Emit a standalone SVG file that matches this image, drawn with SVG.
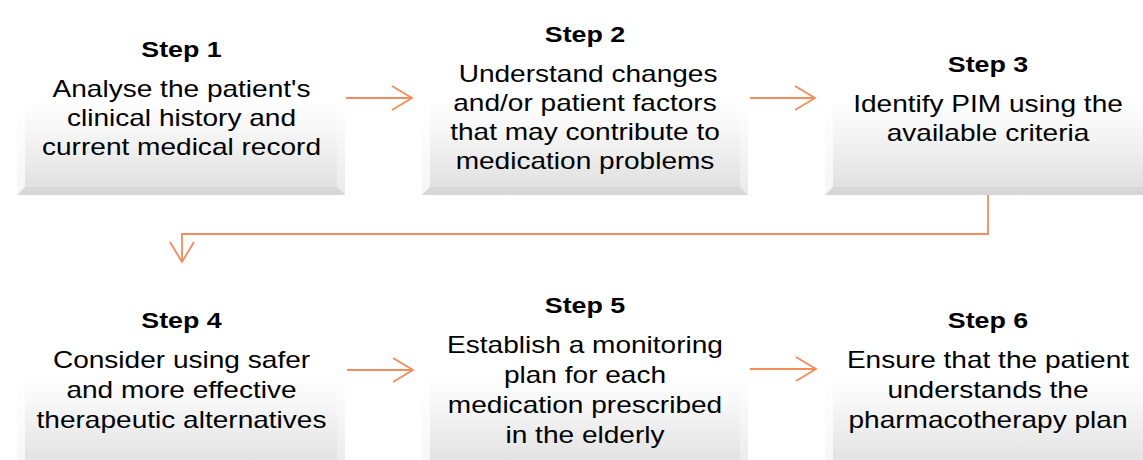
<svg xmlns="http://www.w3.org/2000/svg" width="1143" height="460" viewBox="0 0 1143 460">
<style>
.t{font-family:"Liberation Sans",Arial,sans-serif;font-weight:bold;font-size:22px;fill:#000;text-anchor:middle}
.b{font-family:"Liberation Sans",Arial,sans-serif;font-size:23px;fill:#000;text-anchor:middle}
.c{fill:none;stroke:#F28C5C;stroke-width:1.8}
.main{fill:url(#gMain)}
.bl{fill:#ffffff;opacity:0.7}
.br{fill:#ffffff;opacity:0.35}
.bb{fill:#c8c8c8;opacity:0.35}
</style>
<defs>
<linearGradient id="gMain" x1="0" y1="0" x2="0" y2="1">
<stop offset="0" stop-color="#ffffff"/>
<stop offset="0.3" stop-color="#f7f7f7"/>
<stop offset="1" stop-color="#dedede"/>
</linearGradient>
<marker id="arr" markerUnits="userSpaceOnUse" markerWidth="26" markerHeight="28" refX="21" refY="13" orient="auto">
<path d="M1,1 L21,13 L1,25" fill="none" stroke="#F28C5C" stroke-width="1.8"/>
</marker>
</defs>
<rect width="1143" height="460" fill="#ffffff"/>

<g id="step1">
<rect class="main" x="17" y="100" width="328" height="95"/>
<polygon class="bl" points="17,100 25,108 25,187 17,195"/>
<polygon class="br" points="345,100 337,108 337,187 345,195"/>
<polygon class="bb" points="17,195 25,187 337,187 345,195"/>
<g transform="translate(181.5,0) scale(1.22,1)">
<text class="t" x="0" y="57">Step 1</text>
<text class="b" x="0" y="97">Analyse the patient's</text>
<text class="b" x="0" y="126">clinical history and</text>
<text class="b" x="0" y="155">current medical record</text>
</g>
</g>

<g id="step2">
<rect class="main" x="422" y="100" width="326" height="95"/>
<polygon class="bl" points="422,100 430,108 430,187 422,195"/>
<polygon class="br" points="748,100 740,108 740,187 748,195"/>
<polygon class="bb" points="422,195 430,187 740,187 748,195"/>
<g transform="translate(585,0) scale(1.22,1)">
<text class="t" x="0" y="42">Step 2</text>
<text class="b" x="2.5" y="82">Understand changes</text>
<text class="b" x="0" y="111">and/or patient factors</text>
<text class="b" x="0" y="140">that may contribute to</text>
<text class="b" x="0" y="169">medication problems</text>
</g>
</g>

<g id="step3">
<rect class="main" x="825" y="98" width="326" height="97"/>
<polygon class="bl" points="825,98 833,106 833,187 825,195"/>
<polygon class="bb" points="825,195 833,187 1143,187 1143,195"/>
<g transform="translate(988,0) scale(1.22,1)">
<text class="t" x="0" y="72">Step 3</text>
<text class="b" x="0" y="112">Identify PIM using the</text>
<text class="b" x="0" y="141">available criteria</text>
</g>
</g>

<g id="step4">
<rect class="main" x="17" y="373" width="328" height="100"/>
<polygon class="bl" points="17,373 25,381 25,473 17,473"/>
<polygon class="br" points="345,373 337,381 337,473 345,473"/>
<g transform="translate(181.5,0) scale(1.22,1)">
<text class="t" x="0" y="328">Step 4</text>
<text class="b" x="0" y="368">Consider using safer</text>
<text class="b" x="0" y="398">and more effective</text>
<text class="b" x="0" y="428">therapeutic alternatives</text>
</g>
</g>

<g id="step5">
<rect class="main" x="422" y="373" width="326" height="100"/>
<polygon class="bl" points="422,373 430,381 430,473 422,473"/>
<polygon class="br" points="748,373 740,381 740,473 748,473"/>
<g transform="translate(585,0) scale(1.22,1)">
<text class="t" x="0" y="313">Step 5</text>
<text class="b" x="0" y="353">Establish a monitoring</text>
<text class="b" x="0" y="383">plan for each</text>
<text class="b" x="0" y="413">medication prescribed</text>
<text class="b" x="0" y="443">in the elderly</text>
</g>
</g>

<g id="step6">
<rect class="main" x="825" y="373" width="326" height="100"/>
<polygon class="bl" points="825,373 833,381 833,473 825,473"/>
<g transform="translate(988,0) scale(1.22,1)">
<text class="t" x="0" y="328">Step 6</text>
<text class="b" x="0" y="368">Ensure that the patient</text>
<text class="b" x="0" y="398">understands the</text>
<text class="b" x="0" y="428">pharmacotherapy plan</text>
</g>
</g>

<g id="connectors">
<path class="c" d="M346,98 H412" marker-end="url(#arr)"/>
<path class="c" d="M750,98 H815" marker-end="url(#arr)"/>
<path class="c" d="M988,195 V234 H182 V262" marker-end="url(#arr)"/>
<path class="c" d="M347,370 H413" marker-end="url(#arr)"/>
<path class="c" d="M750,369 H816" marker-end="url(#arr)"/>
</g>
</svg>
